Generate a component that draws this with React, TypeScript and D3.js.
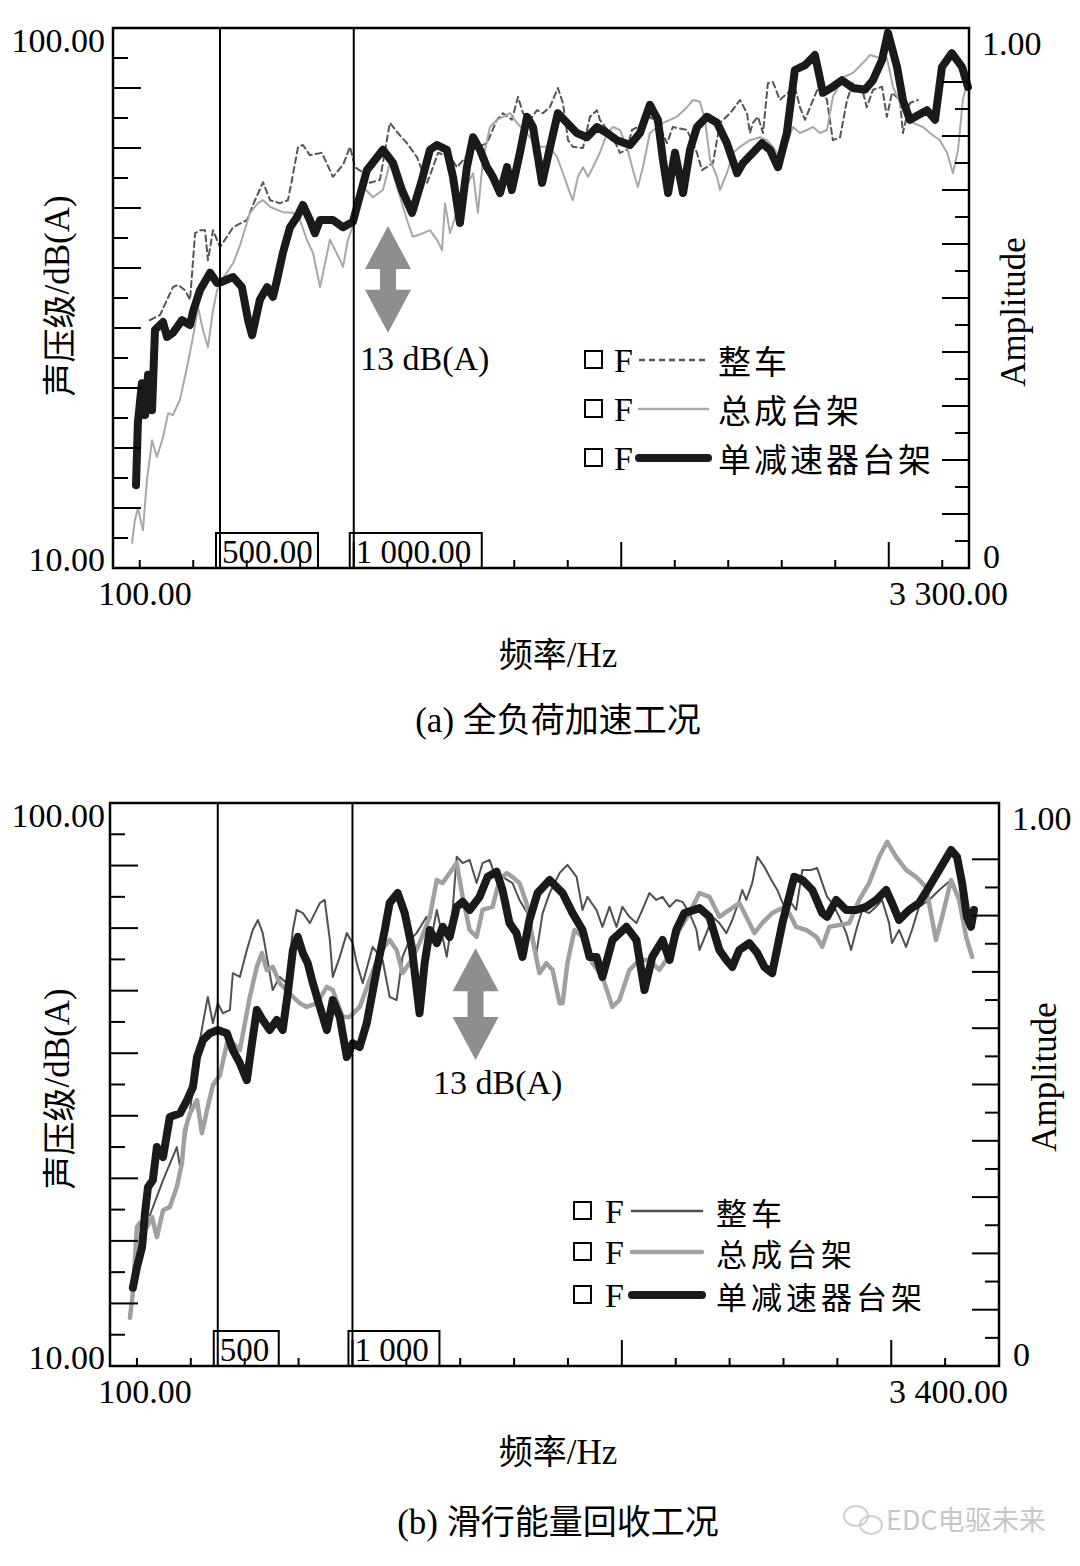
import React from "react";
import * as d3 from "d3";

type Pt = [number, number];

const SERIES_NAMES = ["整车", "总成台架", "单减速器台架"];

// Panel (a) 全负荷加速工况 : [frequency Hz, dB(A)]
const A_WHOLE: Pt[] = [
  [238,51.3],[276,52.2],[324,56.8],[343,57.2],[369,56.3],[388,54.7],[407,65.8],[425,66.3],[444,66.3],[455,61.3],[474,66.3],[500,63.5],[526,65.2],[549,66.8],[601,68.0],[631,71.3],[661,74.3],[687,71.3],[724,70.8],[754,71.3],[769,74.7],[792,80.2],[810,80.5],[836,78.8],[881,79.2],[922,75.2],[960,77.2],[986,80.2],[1005,76.8],[1031,76.0],[1061,74.2],[1098,74.7],[1135,84.2],[1165,82.5],[1199,80.8],[1236,78.5],[1274,74.2],[1292,76.3],[1315,79.2],[1360,78.5],[1386,76.8],[1442,79.7],[1498,80.8],[1535,84.7],[1558,85.8],[1591,84.7],[1614,88.5],[1633,85.8],[1659,84.7],[1685,86.3],[1707,85.8],[1733,86.8],[1763,90.0],[1782,87.5],[1801,81.3],[1819,80.2],[1857,80.0],[1883,85.2],[1909,86.3],[1920,84.7],[1969,81.8],[1995,79.2],[2021,79.7],[2040,83.0],[2062,83.5],[2107,85.2],[2145,83.5],[2171,80.8],[2193,83.5],[2246,83.0],[2283,79.2],[2302,76.3],[2343,77.5],[2369,84.2],[2407,85.8],[2444,88.0],[2470,85.8],[2481,82.5],[2492,84.2],[2511,85.2],[2530,82.5],[2548,90.8],[2567,91.0],[2593,88.0],[2623,89.2],[2649,90.2],[2668,86.8],[2687,84.7],[2717,88.0],[2743,90.8],[2769,88.0],[2791,81.3],[2818,81.8],[2844,88.0],[2866,90.8],[2904,89.2],[2918,86.8],[2941,89.7],[2975,90.2],[2993,85.2],[3012,89.2],[3042,88.0],[3053,82.5],[3079,87.5],[3109,88.0]
];
const A_ASSY: Pt[] = [
  [171,14.2],[182,18.0],[193,20.0],[212,16.3],[227,24.7],[246,31.3],[264,28.5],[287,31.8],[306,35.8],[324,35.5],[350,38.0],[377,43.5],[399,48.5],[418,53.5],[436,49.7],[455,46.8],[474,53.0],[489,56.3],[519,58.8],[549,60.8],[575,63.8],[612,69.2],[642,70.8],[661,71.3],[687,70.2],[735,69.3],[773,69.2],[799,68.0],[825,64.7],[848,62.5],[874,56.8],[911,64.7],[949,61.3],[960,60.2],[978,64.7],[1005,68.0],[1035,73.5],[1072,71.8],[1109,73.0],[1135,77.5],[1165,73.0],[1199,68.0],[1221,65.2],[1259,65.8],[1285,66.3],[1311,64.7],[1330,63.0],[1341,70.8],[1360,65.8],[1408,72.5],[1446,75.8],[1464,69.2],[1483,78.0],[1509,83.5],[1535,84.7],[1558,85.2],[1584,85.8],[1610,84.2],[1659,81.8],[1685,80.2],[1733,80.2],[1760,78.5],[1782,75.8],[1808,72.5],[1819,71.3],[1838,75.2],[1857,76.8],[1876,75.2],[1894,76.8],[1920,79.2],[1947,82.5],[1969,83.5],[1995,83.0],[2021,80.2],[2044,76.3],[2062,73.5],[2081,76.8],[2107,82.5],[2156,84.2],[2208,85.2],[2246,86.8],[2268,88.0],[2294,87.7],[2313,84.7],[2332,78.0],[2358,75.2],[2369,73.0],[2395,75.8],[2418,79.2],[2444,80.2],[2481,81.3],[2519,81.8],[2545,81.3],[2567,80.2],[2593,78.5],[2619,80.8],[2642,83.5],[2668,82.5],[2694,83.0],[2717,83.5],[2743,82.5],[2769,83.0],[2791,88.5],[2829,91.8],[2866,92.5],[2904,94.2],[2930,95.5],[2967,95.0],[2993,95.0],[3016,90.2],[3053,86.3],[3090,84.2],[3128,83.5],[3154,82.5],[3191,81.3],[3218,79.2],[3240,75.8],[3259,79.7],[3277,88.0],[3292,90.8]
];
const A_SINGLE: Pt[] = [
  [186,23.8],[193,34.2],[208,40.8],[220,35.5],[231,42.2],[246,36.3],[257,49.7],[287,51.0],[302,48.5],[324,49.2],[358,51.3],[388,50.5],[399,52.7],[425,56.3],[463,59.2],[489,57.5],[507,57.7],[549,58.5],[582,56.8],[605,51.3],[620,48.8],[649,54.7],[676,56.8],[698,55.2],[713,58.0],[735,62.5],[762,66.8],[788,68.5],[810,70.5],[836,68.0],[855,65.8],[874,68.0],[922,68.0],[960,66.8],[997,67.7],[1012,70.2],[1049,76.3],[1109,79.7],[1147,77.5],[1180,73.0],[1218,69.2],[1255,74.7],[1285,79.7],[1311,80.5],[1348,79.7],[1371,75.2],[1397,67.5],[1423,76.8],[1446,81.8],[1472,79.7],[1498,76.8],[1520,75.2],[1547,72.5],[1573,76.8],[1591,73.0],[1621,79.2],[1648,85.2],[1670,83.5],[1704,74.2],[1734,80.2],[1763,85.8],[1797,84.2],[1834,82.5],[1872,81.8],[1909,83.5],[1947,82.5],[1984,81.3],[2033,80.5],[2070,82.5],[2107,87.2],[2137,84.7],[2156,78.0],[2175,72.5],[2201,79.2],[2231,72.5],[2257,79.7],[2283,83.5],[2320,85.2],[2358,84.2],[2395,80.8],[2433,75.8],[2455,77.5],[2492,79.2],[2526,80.8],[2556,79.7],[2586,76.8],[2619,82.5],[2649,93.0],[2687,93.8],[2724,95.5],[2754,89.2],[2791,90.2],[2825,91.3],[2866,90.0],[2911,89.7],[2941,91.3],[2975,94.7],[2997,99.2],[3031,93.5],[3053,88.0],[3079,84.7],[3143,86.3],[3173,84.7],[3199,93.5],[3236,95.8],[3274,93.5],[3296,90.2]
];

// Panel (b) 滑行能量回收工况 : [frequency Hz, dB(A)]
const B_WHOLE: Pt[] = [
  [248,34.1],[297,39.7],[348,45.0],[360,41.8],[397,50.9],[434,62.1],[445,64.8],[463,69.0],[482,64.8],[500,68.0],[519,66.4],[545,66.9],[556,72.8],[582,72.2],[608,76.5],[630,79.7],[649,81.3],[667,79.2],[693,72.8],[704,70.1],[730,72.2],[756,71.2],[779,79.7],[793,82.9],[816,82.4],[842,80.8],[879,84.0],[897,84.5],[916,78.1],[927,72.2],[953,75.4],[979,79.2],[1001,77.6],[1016,74.4],[1038,71.2],[1075,77.0],[1112,74.9],[1138,69.0],[1164,68.5],[1186,75.4],[1212,78.1],[1238,79.2],[1275,81.8],[1287,77.0],[1313,82.9],[1350,75.4],[1368,80.8],[1387,91.4],[1409,90.4],[1435,90.9],[1461,87.2],[1483,90.4],[1509,90.9],[1535,87.7],[1557,88.2],[1594,87.2],[1620,84.5],[1657,81.8],[1683,76.0],[1706,82.4],[1732,85.6],[1769,88.8],[1798,90.1],[1832,88.2],[1854,82.9],[1872,85.0],[1906,82.9],[1928,80.2],[1954,83.4],[1980,80.2],[2002,83.4],[2028,81.8],[2054,80.8],[2076,82.9],[2102,85.6],[2128,84.5],[2151,85.0],[2177,83.4],[2202,84.5],[2225,84.2],[2251,82.4],[2277,79.7],[2288,76.5],[2314,79.2],[2336,81.8],[2362,80.8],[2388,79.2],[2410,81.3],[2436,84.5],[2447,86.1],[2462,84.5],[2484,87.2],[2503,91.4],[2529,89.8],[2555,87.7],[2577,86.1],[2603,83.4],[2621,84.5],[2647,82.9],[2670,89.3],[2703,89.3],[2725,89.6],[2744,87.2],[2762,85.0],[2781,84.0],[2807,81.8],[2833,79.2],[2851,76.5],[2870,79.7],[2892,82.9],[2918,82.4],[2944,83.4],[2966,84.5],[2992,80.8],[3003,77.6],[3029,79.7],[3055,77.0],[3077,79.7],[3103,83.4],[3141,84.5],[3178,86.1],[3222,87.7],[3252,84.5],[3278,82.4],[3289,80.8]
];
const B_ASSY: Pt[] = [
  [174,17.7],[185,21.7],[200,32.2],[211,32.9],[237,32.2],[256,33.8],[274,30.6],[297,34.9],[322,35.4],[348,38.6],[367,42.4],[378,47.7],[397,50.4],[423,52.5],[441,47.2],[460,50.9],[482,54.9],[508,56.5],[534,61.6],[556,61.6],[582,60.5],[619,69.0],[645,73.8],[664,76.0],[682,73.3],[704,73.8],[730,71.2],[756,70.1],[779,69.0],[805,68.0],[830,67.4],[868,68.0],[905,70.6],[927,70.1],[964,65.8],[990,65.8],[1027,67.4],[1064,71.7],[1101,76.0],[1138,78.1],[1164,76.5],[1186,72.8],[1220,74.9],[1249,77.6],[1287,81.8],[1313,87.7],[1335,87.2],[1361,88.8],[1387,90.4],[1409,85.0],[1435,79.7],[1461,78.6],[1483,82.9],[1520,83.4],[1546,87.7],[1572,88.8],[1594,88.2],[1620,87.2],[1646,84.0],[1669,78.1],[1694,72.8],[1720,74.4],[1743,73.3],[1769,68.0],[1780,68.0],[1798,74.4],[1824,79.7],[1854,78.6],[1891,74.4],[1928,72.2],[1965,67.4],[1991,68.5],[2028,73.3],[2065,74.9],[2102,74.9],[2139,73.3],[2165,74.9],[2213,79.7],[2251,82.4],[2288,85.6],[2325,85.0],[2362,81.8],[2399,82.9],[2436,84.0],[2462,81.8],[2492,79.2],[2521,80.8],[2558,82.4],[2596,83.2],[2621,82.4],[2647,80.2],[2684,79.7],[2722,78.6],[2744,77.0],[2770,80.2],[2807,80.5],[2844,80.8],[2881,84.5],[2918,87.2],[2955,91.4],[2985,93.8],[3018,91.4],[3055,89.3],[3092,88.2],[3129,86.6],[3166,78.1],[3189,81.8],[3222,87.7],[3252,84.5],[3278,78.6],[3300,75.4]
];
const B_SINGLE: Pt[] = [
  [185,22.5],[200,25.8],[219,29.0],[230,34.5],[241,38.6],[259,39.7],[274,45.0],[297,43.4],[322,49.8],[360,50.4],[386,52.5],[408,54.6],[423,59.4],[445,62.1],[471,63.2],[500,63.7],[534,63.2],[556,60.5],[582,58.4],[608,55.7],[627,61.6],[645,66.9],[667,65.3],[693,63.7],[719,65.3],[741,63.7],[760,69.6],[779,76.5],[797,78.6],[816,76.0],[834,74.4],[853,71.2],[879,67.4],[905,63.7],[927,68.5],[953,65.8],[979,59.4],[1001,61.6],[1027,61.0],[1053,64.8],[1090,73.3],[1120,79.7],[1138,84.0],[1168,85.6],[1194,82.4],[1220,77.0],[1249,66.4],[1268,74.4],[1287,79.7],[1313,77.6],[1335,80.2],[1361,78.6],[1387,83.4],[1409,84.2],[1435,82.9],[1472,85.0],[1502,88.2],[1535,89.0],[1557,86.1],[1583,80.8],[1609,79.2],[1631,75.4],[1657,81.3],[1687,85.6],[1732,87.7],[1780,85.6],[1817,82.4],[1854,79.7],[1880,75.4],[1906,75.4],[1928,72.2],[1965,78.1],[2017,80.2],[2054,78.1],[2084,70.1],[2113,75.4],[2151,78.1],[2177,74.9],[2202,79.7],[2232,82.4],[2288,83.2],[2325,81.8],[2362,76.5],[2388,74.9],[2410,73.8],[2436,76.5],[2473,77.6],[2503,76.0],[2529,73.8],[2558,72.8],[2596,80.8],[2640,88.2],[2670,87.7],[2707,86.1],[2744,82.4],[2762,81.8],[2796,84.5],[2833,82.9],[2870,82.9],[2907,83.4],[2944,84.5],[2981,86.1],[3003,84.0],[3029,81.3],[3066,82.9],[3103,84.0],[3141,86.6],[3178,89.3],[3222,92.5],[3244,91.4],[3263,87.2],[3281,81.8],[3296,80.2],[3307,82.9]
];

const A_XDOMAIN: [number, number] = [100, 3300];
const B_XDOMAIN: [number, number] = [100, 3400];
const Y_DOMAIN: [number, number] = [10, 100];
const AMP_DOMAIN: [number, number] = [0, 1];
const X_TICKS = d3.range(200, 3300, 200);
const Y_TICKS = d3.range(15, 96, 5);
const AMP_TICKS = d3.range(1, 19).map((i) => i * 0.05);
const A_CURSORS = [{ f: 500, label: "500.00", w: 102 }, { f: 1000, label: "1 000.00", w: 132 }];
const B_CURSORS = [{ f: 500, label: "500", w: 65 }, { f: 1000, label: "1 000", w: 91 }];
const A_XLABELS = ["100.00", "3 300.00"];
const B_XLABELS = ["100.00", "3 400.00"];
const Y_LABELS = ["100.00", "10.00"];
const AMP_LABELS = ["1.00", "0"];

const SERIF = "'Liberation Serif', 'Times New Roman', 'Noto Sans CJK SC', serif";
const CJK = "'Noto Sans CJK SC', 'Liberation Serif', sans-serif";

type Style = { stroke: string; width: number; dash?: string };

type LegendLayout = { x: number; ys: number[]; size: number; spacing: number; fx: number; l1: number; l2: number; tx: number };

type PanelProps = {
  left: number; right: number; top: number; bottom: number;
  xDomain: [number, number];
  series: Pt[][];
  styles: Style[];
  cursors: { f: number; label: string; w: number }[];
  xLabels: string[];
  arrow: { f: number; dbTop: number; dbBot: number };
  arrowTextX: number; arrowTextY: number;
  legend: LegendLayout;
  ampLabelX: number; ampTitleX: number; ampTitleY: number; yTitleY: number;
  caption: string; xTitleY: number; captionY: number;
};

function Panel(p: PanelProps) {
  const x = d3.scaleLinear().domain(p.xDomain).range([p.left, p.right]);
  const y = d3.scaleLinear().domain(Y_DOMAIN).range([p.bottom, p.top]);
  const amp = d3.scaleLinear().domain(AMP_DOMAIN).range([p.bottom, p.top]);
  const line = d3.line<Pt>().x((d) => x(d[0])).y((d) => y(d[1]));
  const cx = x(p.arrow.f);
  const yT = y(p.arrow.dbTop);
  const yB = y(p.arrow.dbBot);
  const hh = 43, hw = 23, sw = 8;
  const arrowPath = `M${cx},${yT} L${cx + hw},${yT + hh} L${cx + sw},${yT + hh} L${cx + sw},${yB - hh} L${cx + hw},${yB - hh} L${cx},${yB} L${cx - hw},${yB - hh} L${cx - sw},${yB - hh} L${cx - sw},${yT + hh} L${cx - hw},${yT + hh} Z`;
  const order = [0, 1, 2];
  const lg = p.legend;
  return (
    <g>
      {order.map((i) => (
        <path key={i} d={line(p.series[i]) || ""} fill="none" stroke={p.styles[i].stroke}
          strokeWidth={p.styles[i].width} strokeDasharray={p.styles[i].dash}
          strokeLinejoin="round" strokeLinecap="round" />
      ))}
      {p.cursors.map((c) => (
        <g key={c.label}>
          <line x1={x(c.f)} x2={x(c.f)} y1={p.top} y2={p.bottom} stroke="#000" strokeWidth={2} />
          <rect x={x(c.f) - 4} y={p.bottom - 35} width={c.w} height={35} fill="none" stroke="#000" strokeWidth={2} />
          <text x={x(c.f) + 2} y={p.bottom - 5} fontFamily={SERIF} fontSize={33} fill="#000">{c.label}</text>
        </g>
      ))}
      <rect x={p.left} y={p.top} width={p.right - p.left} height={p.bottom - p.top} fill="none" stroke="#000" strokeWidth={2.5} />
      {Y_TICKS.map((t) => (
        <line key={"y" + t} x1={p.left} x2={p.left + (t % 10 === 0 ? 28 : 15)} y1={y(t)} y2={y(t)} stroke="#000" strokeWidth={2} />
      ))}
      {AMP_TICKS.map((t, i) => (
        <line key={"a" + i} x1={p.right} x2={p.right - (i % 2 === 1 ? 27 : 14)} y1={amp(t)} y2={amp(t)} stroke="#000" strokeWidth={2} />
      ))}
      {X_TICKS.filter((t) => t < p.xDomain[1]).map((t) => (
        <line key={"x" + t} x1={x(t)} x2={x(t)} y1={p.bottom} y2={p.bottom - (t % 1000 === 0 ? 26 : 8)} stroke="#000" strokeWidth={2} />
      ))}
      <text x={105} y={p.top + 24} textAnchor="end" fontFamily={SERIF} fontSize={34}>{Y_LABELS[0]}</text>
      <text x={105} y={p.bottom + 3} textAnchor="end" fontFamily={SERIF} fontSize={34}>{Y_LABELS[1]}</text>
      <text x={p.ampLabelX} y={p.top + 27} fontFamily={SERIF} fontSize={34}>{AMP_LABELS[0]}</text>
      <text x={p.right + 14} y={p.bottom} fontFamily={SERIF} fontSize={34}>{AMP_LABELS[1]}</text>
      <text x={145} y={p.bottom + 37} textAnchor="middle" fontFamily={SERIF} fontSize={34}>{p.xLabels[0]}</text>
      <text x={889} y={p.bottom + 37} fontFamily={SERIF} fontSize={34}>{p.xLabels[1]}</text>
      <text transform={`translate(57,${p.yTitleY}) rotate(-90)`} textAnchor="middle" dominantBaseline="central" fontFamily={SERIF} fontSize={35}>
        <tspan fontFamily={CJK} fontSize={34}>声压级</tspan>/dB(A)
      </text>
      <text transform={`translate(${p.ampTitleX},${p.ampTitleY}) rotate(-90)`} textAnchor="middle" dominantBaseline="central" fontFamily={SERIF} fontSize={35}>Amplitude</text>
      <text x={558} y={p.xTitleY} textAnchor="middle" fontFamily={SERIF} fontSize={35}>
        <tspan fontFamily={CJK} fontSize={34}>频率</tspan>/Hz
      </text>
      <text x={558} y={p.captionY} textAnchor="middle" fontFamily={SERIF} fontSize={35}>
        {p.caption.slice(0, 4)}<tspan fontFamily={CJK} fontSize={34}>{p.caption.slice(4)}</tspan>
      </text>
      <path d={arrowPath} fill="#8e8e8e" />
      <text x={p.arrowTextX} y={p.arrowTextY} fontFamily={SERIF} fontSize={34}>13 dB(A)</text>
      {SERIES_NAMES.map((name, i) => {
        const ly = lg.ys[i];
        const lx = lg.x;
        return (
          <g key={name}>
            <rect x={lx} y={ly - 9} width={17} height={17} fill="none" stroke="#000" strokeWidth={2} />
            <text x={lx + lg.fx} y={ly + 12} fontFamily={SERIF} fontSize={34}>F</text>
            <line x1={lx + lg.l1} x2={lx + lg.l2} y1={ly} y2={ly} stroke={p.styles[i].stroke}
              strokeWidth={Math.max(p.styles[i].width, 2.5)} strokeDasharray={p.styles[i].dash} strokeLinecap={p.styles[i].dash ? "butt" : "round"} />
            <text x={lx + lg.tx} y={ly} dominantBaseline="central" fontFamily={CJK} fontSize={lg.size} letterSpacing={lg.spacing}>{name}</text>
          </g>
        );
      })}
    </g>
  );
}

export default function App() {
  return (
    <svg width={1080} height={1566} viewBox="0 0 1080 1566"
      style={{ position: "absolute", left: 0, top: 0, background: "#fff" }}>
      <rect width={1080} height={1566} fill="#fff" />
      <Panel left={113} right={969} top={28} bottom={568} xDomain={A_XDOMAIN}
        series={[A_WHOLE, A_ASSY, A_SINGLE]}
        styles={[{ stroke: "#555", width: 2, dash: "6 4" }, { stroke: "#a8a8a8", width: 2 }, { stroke: "#1a1a1a", width: 8 }]}
        cursors={A_CURSORS} xLabels={A_XLABELS}
        arrow={{ f: 1128, dbTop: 67, dbBot: 49.2 }}
        arrowTextX={360} arrowTextY={370}
        legend={{ x: 585, ys: [360, 409, 458], size: 33, spacing: 3, fx: 29, l1: 54, l2: 123, tx: 133 }}
        ampLabelX={982} ampTitleX={1013} ampTitleY={312} yTitleY={296}
        caption="(a) 全负荷加速工况" xTitleY={667} captionY={732} />
      <Panel left={110} right={999} top={803} bottom={1366} xDomain={B_XDOMAIN}
        series={[B_WHOLE, B_ASSY, B_SINGLE]}
        styles={[{ stroke: "#505050", width: 2 }, { stroke: "#a0a0a0", width: 4.5 }, { stroke: "#1a1a1a", width: 8 }]}
        cursors={B_CURSORS} xLabels={B_XLABELS}
        arrow={{ f: 1457, dbTop: 76.8, dbBot: 58.9 }}
        arrowTextX={433} arrowTextY={1094}
        legend={{ x: 574, ys: [1211, 1252, 1295], size: 31, spacing: 4, fx: 31, l1: 58, l2: 128, tx: 142 }}
        ampLabelX={1012} ampTitleX={1044} ampTitleY={1077} yTitleY={1089}
        caption="(b) 滑行能量回收工况" xTitleY={1464} captionY={1534} />
      <g opacity={0.55}>
        <ellipse cx={856} cy={1516} rx={12} ry={10} fill="none" stroke="#aaa" strokeWidth={2} />
        <ellipse cx={871} cy={1525} rx={11} ry={9} fill="none" stroke="#aaa" strokeWidth={2} />
        <text x={886} y={1530} fontFamily="'Noto Sans CJK SC', sans-serif" fontSize={27} fill="#999">EDC电驱未来</text>
      </g>
    </svg>
  );
}
